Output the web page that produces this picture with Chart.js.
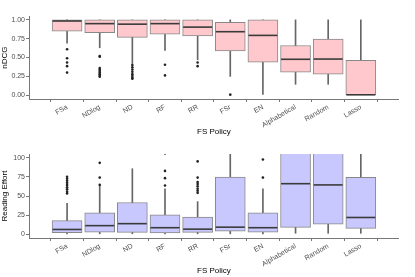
<!DOCTYPE html>
<html>
<head>
<meta charset="utf-8">
<script src="https://cdn.jsdelivr.net/npm/chart.js@4"></script>
<style>
html,body{margin:0;padding:0;background:#fff;}
#w1{position:absolute;left:0;top:0;width:415px;height:138px;}
#w2{position:absolute;left:0;top:138px;width:415px;height:139px;}
</style>
</head>
<body>
<div id="w1"><canvas id="c1"></canvas></div>
<div id="w2"><canvas id="c2"></canvas></div>
<script>
const categories = ['FSa','NDlog','ND','RF','RR','FSr','EN','Alphabetical','Random','Lasso'];

// nDCG box statistics
const ndcgMin = [0.69, 0.63, 0.42, 0.595, 0.47, 0.25, 0.01, 0.145, 0.145, 0.0];
const ndcgQ1  = [0.85, 0.83, 0.767, 0.81, 0.786, 0.588, 0.44, 0.305, 0.28, 0.003];
const ndcgMed = [0.985, 0.95, 0.943, 0.95, 0.904, 0.843, 0.794, 0.477, 0.48, 0.006];
const ndcgQ3  = [1.0, 1.0, 1.0, 1.0, 1.0, 0.966, 1.0, 0.66, 0.744, 0.462];
const ndcgMax = [1.0, 1.0, 1.0, 1.0, 1.0, 1.0, 1.0, 1.0, 1.0, 1.0];
const ndcgOutliers = [
  [0.61, 0.49, 0.435, 0.386, 0.30],
  [0.52, 0.51, 0.36, 0.34, 0.32, 0.30, 0.28, 0.26, 0.245],
  [0.40, 0.37, 0.34, 0.31, 0.28, 0.255, 0.23, 0.22],
  [0.405, 0.263],
  [0.435, 0.386],
  [0.008],
  [], [], [], []
];

// Reading effort box statistics
const effMin = [0.5, 0.5, 0.5, 0.5, 0.5, 0.5, 0.5, 1.2, 1.2, 1.2];
const effQ1  = [2.0, 2.7, 2.3, 1.6, 2.3, 3.9, 2.7, 8.9, 13.1, 7.7];
const effMed = [6.2, 11.2, 13.8, 8.5, 6.6, 9.2, 8.5, 66.2, 64.6, 21.9];
const effQ3  = [17.7, 28.1, 41.5, 25.4, 22.4, 75.0, 28.1, 120, 115, 74.6];
const effMax = [40.4, 62.7, 85.8, 59.6, 42.7, 150, 59.6, 200, 200, 160];
const effOutliers = [
  [75.4, 72.7, 70, 67.3, 64.6, 61.6, 58.8, 55.8, 53.5],
  [93.5, 74.2, 64.6],
  [],
  [106, 83, 73.5, 63.9],
  [95.4, 74.2, 68.5, 65.8, 62.7, 59.6, 57, 54.2],
  [],
  [98, 74.2],
  [], [], []
];

const nTicks = [0, 0.25, 0.5, 0.75, 1.0];
const eTicks = [0, 25, 50, 75, 100];

const FONT = "'Liberation Sans', Arial, sans-serif";
Chart.defaults.font.family = FONT;

function build(id, mins, q1, med, q3, maxs, outl, fill, yMin, yMax, yTicks, yTitle, fmt) {
  const box = categories.map((c,i)=>({x:i+1, y:[q1[i], q3[i]]}));
  const whisk = categories.map((c,i)=>({x:i+1, y:[mins[i], maxs[i]]}));
  const meds = categories.map((c,i)=>({x:i+1, y:med[i]}));
  const outs = [];
  outl.forEach((arr,i)=>arr.forEach(v=>outs.push({x:i+1, y:v})));
  return new Chart(document.getElementById(id), {
    type: 'bar',
    data: {
      datasets: [
        {type:'bar', data: whisk, grouped:false, barThickness:1, backgroundColor:'#666', borderWidth:0, order:4},
        {type:'bar', data: box, grouped:false, barThickness:30, backgroundColor:fill, borderColor:'#888', borderWidth:1, borderSkipped:false, order:3},
        {type:'line', data: meds, showLine:false, pointStyle:'line', pointRadius:14.5, pointBorderWidth:1.6, pointBorderColor:'#3a3a3a', borderColor:'#3a3a3a', order:2},
        {type:'line', data: outs, showLine:false, pointStyle:'circle', pointRadius:1.3, pointBorderWidth:0, pointBackgroundColor:'#222', backgroundColor:'#222', borderColor:'#222', order:1}
      ]
    },
    options: {
      responsive: true,
      maintainAspectRatio: false,
      animation: false,
      events: [],
      layout: {padding: {top: 3, right: 3, left: 0, bottom: 0}},
      plugins: {legend:{display:false}, tooltip:{enabled:false}},
      scales: {
        x: {
          type: 'linear', min: 0.4, max: 10.6,
          afterBuildTicks: s => { s.ticks = categories.map((c,i)=>({value:i+1})); },
          afterFit: s => { s.height = 39; },
          ticks: {
            callback: v => categories[Math.round(v)-1],
            minRotation: 30, maxRotation: 30, autoSkip: false,
            color: '#4d4d4d', font: {size: 7}, padding: 1
          },
          grid: {drawOnChartArea:false, drawTicks:true, tickLength:3, color:'#777'},
          border: {display:true, color:'#777', width:1},
          title: {display:true, text:'FS Policy', color:'#000', font:{size:8}, padding:{top:0, bottom:1}}
        },
        y: {
          type: 'linear', min: yMin, max: yMax,
          afterBuildTicks: s => { s.ticks = yTicks.map(v=>({value:v})); },
          afterFit: s => { s.width = 29; },
          ticks: {callback: fmt, color:'#4d4d4d', font:{size:7}, padding:1},
          grid: {drawOnChartArea:false, drawTicks:true, tickLength:3, color:'#777'},
          border: {display:true, color:'#777', width:1},
          title: {display:true, text:yTitle, color:'#000', font:{size:8}, padding:{top:0, bottom:0}}
        }
      }
    }
  });
}

build('c1', ndcgMin, ndcgQ1, ndcgMed, ndcgQ3, ndcgMax, ndcgOutliers, '#FFC8CC', -0.05, 1.05, nTicks, 'nDCG', v => v.toFixed(2));
build('c2', effMin, effQ1, effMed, effQ3, effMax, effOutliers, '#C8C8FF', -5, 105, eTicks, 'Reading Effort', v => String(v));
</script>
</body>
</html>
